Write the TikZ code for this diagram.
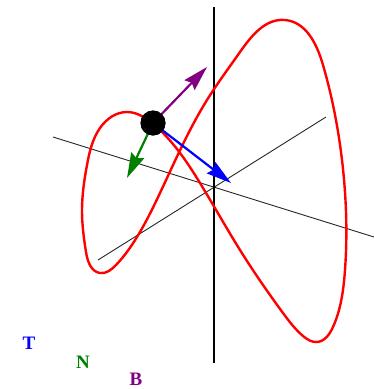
\documentclass[tikz,border=0pt]{standalone}
\usepackage{fontspec}
\setmainfont{Liberation Serif}
\usetikzlibrary{arrows.meta,hobby}
\definecolor{tgreen}{RGB}{0,128,0}
\definecolor{tpurple}{RGB}{128,0,128}
\tikzset{
  axis/.style={line width=0.9pt, black!85},
  vaxis/.style={line width=1.1pt, black},
  curve/.style={line width=2.4pt, red, line join=round},
  vec/.style={line width=2.2pt, -{Stealth[length=25pt, width=14pt, inset=3pt]}},
  lab/.style={font=\fontsize{19}{19}\selectfont\bfseries, inner sep=0pt},
  ball/.style={circle, fill=black, minimum size=25pt, inner sep=0pt}
}
\begin{document}
\begin{tikzpicture}[x=1pt, y=-1pt]
\useasboundingbox (0,0) rectangle (374,389);
% axes
\coordinate (O) at (214,187);
\coordinate (a1) at (53,137);
\coordinate (a2) at (374,237);
\coordinate (b1) at (98,260);
\coordinate (b2) at (326,117);
\coordinate (c1) at (214,7);
\coordinate (c2) at (214,363);
\draw[axis] (a1) -- (a2);
\draw[axis] (b1) -- (b2);
\draw[vaxis] (c1) -- (c2);
% curve
\draw[curve] plot[closed hobby] coordinates {
(152,123) (127,112) (100,128) (87,165) (82,210) (86,252) (100,273)
(116,265) (137,237) (160,193) (207,100) (240,52) (285,20)
(323,65) (342,160) (345,270) (333,327) (317,342) (303,336)
(283,313) (240,250) (200,183) (163,133)};
% frame point
\node[ball] (dot) at (153,123) {};
\coordinate (tipB) at (207,67);
\coordinate (tipT) at (231,183);
\coordinate (tipN) at (127,178);
\draw[vec, tpurple] (dot.center) -- (tipB);
\draw[vec, blue] (dot.center) -- (tipT);
\draw[vec, tgreen] (dot.center) -- (tipN);
\node[ball] at (dot) {};
% labels
\node[lab, text=blue] (lT) at (29,343) {T};
\node[lab, text=tgreen] (lN) at (83,362) {N};
\node[lab, text=tpurple] (lB) at (136,379) {B};
\end{tikzpicture}
\end{document}
